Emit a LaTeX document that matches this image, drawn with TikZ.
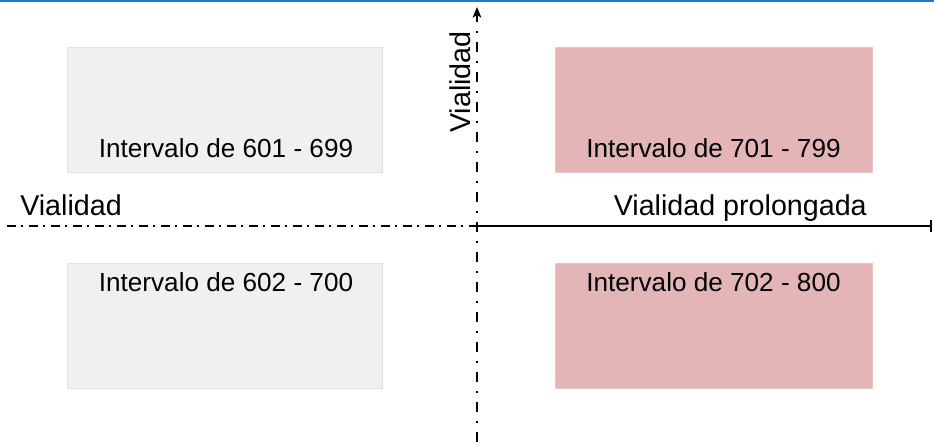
\documentclass[tikz,border=0pt]{standalone}
\usepackage{fontspec}
\setmainfont{Liberation Sans}
\usetikzlibrary{arrows.meta}
\definecolor{topblue}{HTML}{1E7BD4}
\definecolor{grayfill}{HTML}{F0F0F0}
\definecolor{grayedge}{HTML}{E2E2E2}
\definecolor{redfill}{HTML}{E4B5B6}
\definecolor{rededge}{HTML}{EAC6C6}
\begin{document}
\begin{tikzpicture}[x=0.75pt,y=-0.75pt,
  graybox/.style={draw=grayedge,fill=grayfill,line width=0.8pt,inner sep=0pt,minimum width=236.5pt,minimum height=94pt,anchor=north west},
  redbox/.style={draw=rededge,fill=redfill,line width=0.6pt,inner sep=0pt,minimum width=237.5pt,minimum height=94pt,anchor=north west},
  intlabel/.style={inner sep=0pt,anchor=base,font=\fontsize{19.6pt}{22pt}\selectfont},
  axlabel/.style={inner sep=0pt,font=\fontsize{21.5pt}{24pt}\selectfont},
  axisline/.style={line width=1.3pt,black},
  hdashdot/.style={dash pattern=on 6.75pt off 3.4pt on 1.5pt off 4.85pt},
  vdashdot/.style={dash pattern=on 7.5pt off 6.75pt on 1.5pt off 6.75pt}]
\useasboundingbox (0,0) rectangle (934,442);
\fill[white] (0,0) rectangle (934,442);
% top blue rule
\fill[topblue] (0,0) rectangle (934,2);
% boxes
\node[graybox] (b1) at (67,47) {};
\node[redbox] (b2) at (555,47) {};
\node[graybox] (b3) at (67,263) {};
\node[redbox] (b4) at (555,263) {};
% box labels
\node[intlabel] (t1) at (226,157) {Intervalo de 601 - 699};
\node[intlabel] (t2) at (713.5,157) {Intervalo de 701 - 799};
\node[intlabel] (t3) at (226,291) {Intervalo de 602 - 700};
\node[intlabel] (t4) at (713.5,291) {Intervalo de 702 - 800};
% axes
\coordinate (hl) at (7,226);
\coordinate (o) at (477,226);
\coordinate (hr) at (932,226);
\coordinate (vt) at (477,7);
\coordinate (vb) at (477,442);
\draw[axisline,hdashdot] (hl) -- (o);
\draw[axisline,-{Bar[width=9pt]}] (o) -- (hr);
\draw[axisline,vdashdot,-{Stealth[length=8pt,width=6.5pt,inset=2pt]}] (vb) -- (vt);
% axis labels
\node[axlabel,anchor=base west] (lv) at (20,215) {Vialidad};
\node[axlabel,anchor=base east] (lvp) at (867,215) {Vialidad prolongada};
\node[axlabel,anchor=base west,rotate=90] (vv) at (470,133) {Vialidad};
\end{tikzpicture}
\end{document}
